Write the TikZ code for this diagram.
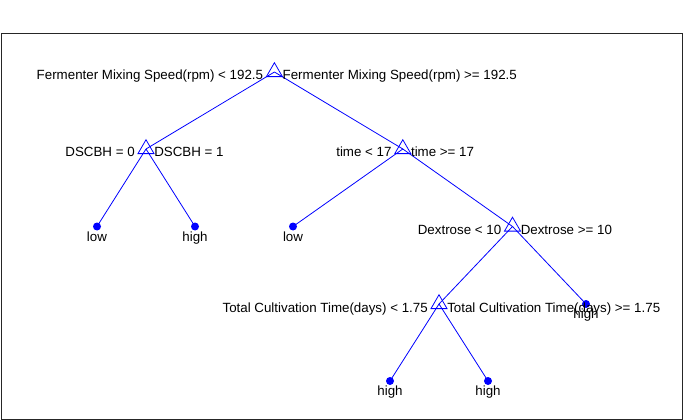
\documentclass[tikz,border=0pt]{standalone}
\usepackage{fontspec}
\setmainfont{Liberation Sans}
\usepackage{tikz}
\usepackage{xcolor}
\usetikzlibrary{shapes.geometric}
\definecolor{treeblue}{RGB}{0,0,255}
\tikzset{
    split-node/.style = {draw=treeblue, line width=0.6pt, regular polygon, regular polygon sides=3, minimum size=13.9pt, inner sep=0pt},
    leaf-node/.style = {circle, fill=treeblue, minimum size=6pt, inner sep=0pt},
    branch/.style = {draw=treeblue, line width=0.6pt},
    cond-text/.style = {inner sep=0pt, font=\fontsize{10}{12}\selectfont},
    cond-left/.style = {cond-text, anchor=base east},
    cond-right/.style = {cond-text, anchor=base west},
    leaf-label/.style = {cond-text, anchor=base},
}

\begin{document}
\begin{tikzpicture}[x=0.75pt, y=-0.75pt]
\useasboundingbox (0,0) rectangle (684,420);
\draw[line width=0.75pt, black!85] (1,34) rectangle (682,419);

% split nodes
\node[split-node] (root) at (274.4,72) {};
\node[split-node] (dscbh) at (146,149) {};
\node[split-node] (time) at (402.8,149) {};
\node[split-node] (dextrose) at (512.5,226.5) {};
\node[split-node] (cultivation) at (439,304) {};

% leaves
\node[leaf-node] (leafA) at (97,226.5) {};
\node[leaf-node] (leafB) at (195,226.5) {};
\node[leaf-node] (leafC) at (293,226.5) {};
\node[leaf-node] (leafD) at (586,304) {};
\node[leaf-node] (leafE) at (390,381) {};
\node[leaf-node] (leafF) at (488,381) {};

% branches
\draw[branch] (root.center) -- (dscbh.center);
\draw[branch] (root.center) -- (time.center);
\draw[branch] (dscbh.center) -- (leafA.center);
\draw[branch] (dscbh.center) -- (leafB.center);
\draw[branch] (time.center) -- (leafC.center);
\draw[branch] (time.center) -- (dextrose.center);
\draw[branch] (dextrose.center) -- (cultivation.center);
\draw[branch] (dextrose.center) -- (leafD.center);
\draw[branch] (cultivation.center) -- (leafE.center);
\draw[branch] (cultivation.center) -- (leafF.center);

% split conditions
\node[cond-left] at ([shift={(-11,8)}]root.center) {Fermenter Mixing Speed(rpm) < 192.5};
\node[cond-right] at ([shift={(8,8)}]root.center) {Fermenter Mixing Speed(rpm) >= 192.5};
\node[cond-left] at ([shift={(-11,8)}]dscbh.center) {DSCBH = 0};
\node[cond-right] at ([shift={(8,8)}]dscbh.center) {DSCBH = 1};
\node[cond-left] at ([shift={(-11,8)}]time.center) {time < 17};
\node[cond-right] at ([shift={(8,8)}]time.center) {time >= 17};
\node[cond-left] at ([shift={(-11,8)}]dextrose.center) {Dextrose < 10};
\node[cond-right] at ([shift={(8,8)}]dextrose.center) {Dextrose >= 10};
\node[cond-left] at ([shift={(-11,8)}]cultivation.center) {Total Cultivation Time(days) < 1.75};
\node[cond-right] at ([shift={(8,8)}]cultivation.center) {Total Cultivation Time(days) >= 1.75};

% leaf classes
\node[leaf-label] at ([shift={(0,15)}]leafA.center) {low};
\node[leaf-label] at ([shift={(0,15)}]leafB.center) {high};
\node[leaf-label] at ([shift={(0,15)}]leafC.center) {low};
\node[leaf-label] at ([shift={(0,14)}]leafD.center) {high};
\node[leaf-label] at ([shift={(0,14)}]leafE.center) {high};
\node[leaf-label] at ([shift={(0,14)}]leafF.center) {high};
\end{tikzpicture}
\end{document}
